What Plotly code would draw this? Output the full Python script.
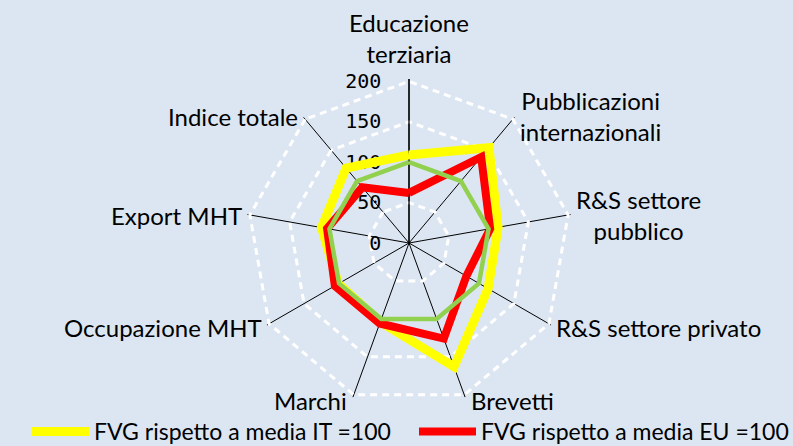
import math
import plotly.graph_objects as go

categories = ["Educazione<br>terziaria", "Pubblicazioni<br>internazionali", "R&S settore<br>pubblico",
              "R&S settore privato", "Brevetti", "Marchi", "Occupazione MHT", "Export MHT", "Indice totale"]
fvg_vs_it = [109, 154, 112, 113, 163, 104, 101, 110, 121]
fvg_vs_eu = [62, 139, 102, 82, 126, 106, 106, 103, 90]
fvg_ref = [100, 100, 100, 100, 100, 100, 100, 100, 100]
radial_ticks = [0, 50, 100, 150, 200]

series_names = ["FVG rispetto a media IT =100", "FVG rispetto a media EU =100", "Riferimento =100"]
series_vals = [fvg_vs_it, fvg_vs_eu, fvg_ref]
series_colors = ["#ffff00", "#ff0000", "#92d050"]
series_widths = [9, 8, 4.5]
series_legend = [True, True, False]

BG = "#dce6f2"
LABEL_FONT = "Lato"

# page geometry
W, H = 793, 446
CX, CY = 409, 243
R_TOP = 162            # pixels from centre to the 200 level
R_MAX_VAL = 203        # range end (slightly past 200 so the 200 grid polygon is drawn)
R = R_TOP * R_MAX_VAL / 200
M_T = CY - R
M_B = H - CY - R
PLOT_H = 2 * R

fig = go.Figure()
for name, vals, col, w, sl in zip(series_names, series_vals, series_colors, series_widths, series_legend):
    fig.add_trace(go.Scatterpolar(
        r=vals + vals[:1], theta=categories + categories[:1],
        mode="lines", name=name, showlegend=sl,
        line=dict(color=col, width=w),
    ))

# category labels placed just outside the outer polygon vertices
annotations = []
n = len(categories)
for i, cat in enumerate(categories):
    ang = math.radians(360 * i / n)
    s, c = math.sin(ang), math.cos(ang)
    vx, vy = CX + R_TOP * s, CY - R_TOP * c
    if abs(s) < 1e-6:
        px, py, xa, ya = vx, vy - 11, "center", "bottom"
    else:
        gap = 5
        px = vx + (gap if s > 0 else -gap)
        py = vy + 1 - 5 * c
        xa, ya = ("left" if s > 0 else "right"), "middle"
    annotations.append(dict(
        text=cat, x=px / W, y=(H - M_B - py) / PLOT_H, xref="paper", yref="paper",
        xanchor=xa, yanchor=ya, showarrow=False, align="center",
        font=dict(family=LABEL_FONT, size=24, color="black"),
    ))

fig.update_layout(
    width=W, height=H,
    paper_bgcolor=BG, plot_bgcolor=BG,
    margin=dict(l=0, r=0, t=M_T, b=M_B, autoexpand=False),
    annotations=annotations,
    polar=dict(
        bgcolor=BG,
        gridshape="linear",
        domain=dict(x=[(CX - R) / W, (CX + R) / W], y=[0, 1]),
        radialaxis=dict(
            range=[0, R_MAX_VAL], tickvals=radial_ticks, angle=90, tickangle=90,
            side="counterclockwise",
            showline=True, linecolor="black", linewidth=1.3,
            showgrid=True, gridcolor="white", gridwidth=2.5, griddash="7px,5px",
            ticks="outside", ticklen=20, tickcolor="rgba(0,0,0,0)",
            tickfont=dict(family="DejaVu Sans Mono", size=20, color="black"),
            layer="below traces",
        ),
        angularaxis=dict(
            rotation=90, direction="clockwise",
            showline=False, showgrid=True, gridcolor="black", gridwidth=0.9,
            ticks="", showticklabels=False,
            layer="below traces",
        ),
    ),
    showlegend=True,
    legend=dict(
        orientation="h", x=27 / W, xanchor="left", y=(H - M_B - 432) / PLOT_H, yanchor="middle",
        font=dict(family=LABEL_FONT, size=23, color="black"),
        bgcolor="rgba(0,0,0,0)", itemwidth=57,
        entrywidth=315, entrywidthmode="pixels",
    ),
)

fig.write_html("out.html", config={"displayModeBar": False},
               post_script="document.body.style.margin='0';")
